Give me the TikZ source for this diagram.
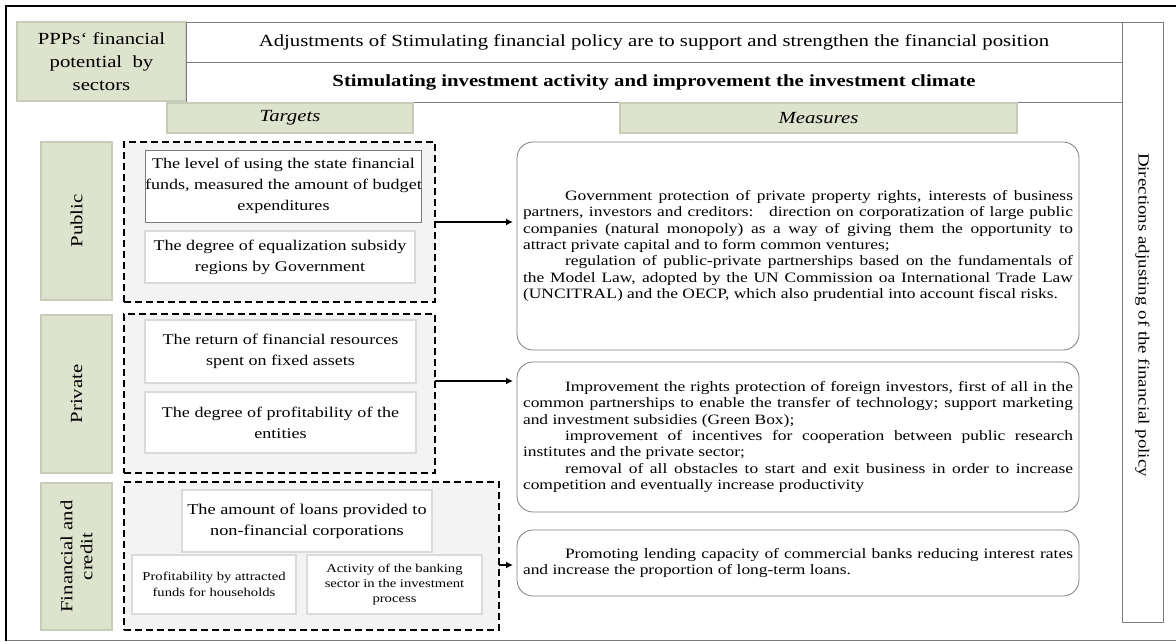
\documentclass[tikz,border=0pt]{standalone}
\usepackage{fontspec}
\setmainfont{Liberation Serif}[FakeStretch=1.22]
\usetikzlibrary{arrows.meta}
\definecolor{pgreen}{RGB}{221,227,205}
\definecolor{pgreenb}{RGB}{198,204,184}
\definecolor{dashfill}{RGB}{243,243,243}
\definecolor{lgray}{RGB}{218,218,218}
\definecolor{mgray}{RGB}{125,125,125}
\newcommand\myfs[2]{\fontsize{#1}{#2}\selectfont}
\newcommand\jl[1]{\makebox[550pt][s]{#1}}
\newcommand\il[1]{\makebox[550pt][s]{\hspace*{42pt}#1}}
\newcommand\lastl[1]{\makebox[550pt][l]{#1}}
\begin{document}
\begin{tikzpicture}[x=1pt,y=-1pt,
 box/.style={anchor=north west, inner sep=0pt, outer sep=0pt, align=center},
 greenbox/.style={box, fill=pgreen, draw=pgreenb, line width=1.2pt},
 hdr/.style={box, draw=mgray, line width=0.8pt, fill=white},
 dashbox/.style={box, draw=black, line width=2.3pt, dash pattern=on 7pt off 4pt, fill=dashfill},
 tbox/.style={box, fill=white, draw=lgray, line width=1.8pt, font=\myfs{14.8}{21}},
 mbox/.style={box, draw=mgray, line width=0.8pt, rounded corners=16pt, fill=white, align=left, font=\myfs{14.3}{16.4}},
 conn/.style={-{Latex[length=7pt,width=7pt]}, line width=2.3pt, shorten >=4pt},
 vlabel/.style={rotate=90, align=center, font=\myfs{17}{20}},
]
\useasboundingbox (0,0) rectangle (1176,641);
% outer frame
\draw[mgray, line width=1pt] (6,640) -- (1176,640);
\draw[black, line width=2.5pt] (6,641) -- (6,6) -- (1176,6);

% header
\node[greenbox, minimum width=169pt, minimum height=79pt, font=\myfs{17}{23}] (ppp) at (17,22) {PPPs` financial\\potential\ \ by\\sectors};
\node[hdr, minimum width=936pt, minimum height=40pt, font=\myfs{17}{20}] (h1) at (186,22) {Adjustments of Stimulating financial policy are to support and strengthen the financial position};
\node[hdr, minimum width=936pt, minimum height=40pt, font=\myfs{17}{20}\bfseries] (h2) at (186,62) {Stimulating investment activity and improvement the investment climate};
\node[hdr, minimum width=41pt, minimum height=600pt] (rc) at (1122,22) {};
\node[rotate=-90, font=\myfs{15.5}{20}] (rct) at ([yshift=7pt]rc.center) {Directions adjusting of the financial policy};

\node[greenbox, minimum width=246pt, minimum height=30pt, font=\myfs{17}{20}\itshape] (tg) at (167,103) {Targets};
\node[greenbox, minimum width=397pt, minimum height=30pt, font=\myfs{17}{20}\itshape] (ms) at (620,103) {Measures};

% sector labels
\node[greenbox, minimum width=71pt, minimum height=158pt] (lpub) at (41,142) {};
\node[vlabel] (lpubt) at (lpub.center) {Public};
\node[greenbox, minimum width=71pt, minimum height=158pt] (lpri) at (41,315) {};
\node[vlabel] (lprit) at (lpri.center) {Private};
\node[greenbox, minimum width=71pt, minimum height=147pt] (lfin) at (41,483) {};
\node[vlabel] (lfint) at (lfin.center) {Financial and\\credit};

% dashed groups
\node[dashbox, minimum width=311pt, minimum height=160pt] (pd) at (124,142) {};
\node[dashbox, minimum width=311pt, minimum height=159pt] (vd) at (124,314) {};
\node[dashbox, minimum width=375pt, minimum height=148pt] (fd) at (124,482) {};

% target boxes
\node[tbox, draw=mgray, line width=0.8pt, minimum width=270pt, minimum height=72pt] (t1) at (145,150) {The level of using the state financial\\funds, measured the amount of budget\\expenditures};
\node[tbox, minimum width=270pt, minimum height=52pt] (t2) at (145,231) {The degree of equalization subsidy\\regions by Government};
\node[tbox, minimum width=271pt, minimum height=63pt] (t3) at (145,320) {The return of financial resources\\spent on fixed assets};
\node[tbox, minimum width=271pt, minimum height=61pt] (t4) at (145,392) {The degree of profitability of the\\entities};
\node[tbox, minimum width=250pt, minimum height=62pt, font=\myfs{15}{21}] (t5) at (182,490) {The amount of loans provided to\\non-financial corporations};
\node[tbox, minimum width=164pt, minimum height=59pt, font=\myfs{12}{16.5}] (t6) at (132,555) {Profitability by attracted\\funds for households};
\node[tbox, minimum width=175pt, minimum height=59pt, font=\myfs{12}{15}] (t7) at (307,555) {Activity of the banking\\sector in the investment\\process};

% measure boxes
\node[mbox, minimum width=562pt, minimum height=208pt] (m1) at (517,142) {%
\il{Government protection of private property rights, interests of business}\\
\jl{partners, investors and creditors:\ \ \ direction on corporatization of large public}\\
\jl{companies (natural monopoly) as a way of giving them the opportunity to}\\
\lastl{attract private capital and to form common ventures;}\\
\il{regulation of public-private partnerships based on the fundamentals of}\\
\jl{the Model Law, adopted by the UN Commission oa International Trade Law}\\
\lastl{(UNCITRAL) and the OECP, which also prudential into account fiscal risks.}};
\node[mbox, minimum width=562pt, minimum height=150pt] (m2) at (517,362) {%
\il{Improvement the rights protection of foreign investors, first of all in the}\\
\jl{common partnerships to enable the transfer of technology; support marketing}\\
\lastl{and investment subsidies (Green Box);}\\
\il{improvement of incentives for cooperation between public research}\\
\lastl{institutes and the private sector;}\\
\il{removal of all obstacles to start and exit business in order to increase}\\
\lastl{competition and eventually increase productivity}};
\node[mbox, minimum width=562pt, minimum height=66pt] (m3) at (517,530) {%
\il{Promoting lending capacity of commercial banks reducing interest rates}\\
\lastl{and increase the proportion of long-term loans.}};

% connectors
\draw[conn] (pd.east) -- (pd.east -| m1.west);
\draw[conn] ([yshift=12.5pt]vd.east) -- ([yshift=12.5pt]vd.east -| m2.west);
\draw[conn] ([yshift=-9pt]fd.east) -- ([yshift=-9pt]fd.east -| m3.west);
\end{tikzpicture}
\end{document}
